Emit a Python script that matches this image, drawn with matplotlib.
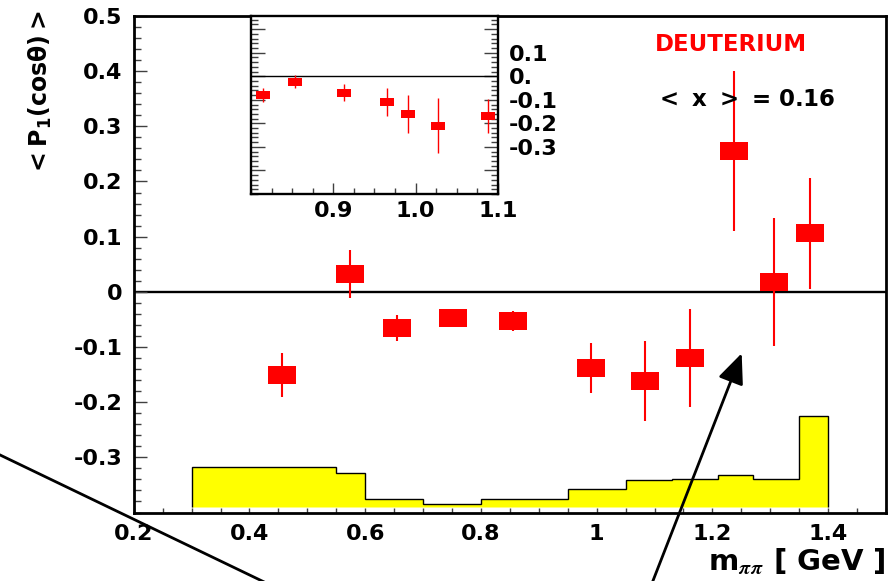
import matplotlib.pyplot as plt
from matplotlib.lines import Line2D
from matplotlib.patches import FancyArrowPatch
from matplotlib.ticker import FixedLocator, FixedFormatter, MultipleLocator

plt.rcParams['font.family'] = ['DejaVu Sans']
plt.rcParams['font.weight'] = 'bold'
plt.rcParams['axes.labelweight'] = 'bold'

# <P1(cos theta)> against the pi-pi invariant mass, deuterium target
mass = [0.457, 0.574, 0.655, 0.751, 0.855, 0.990, 1.083, 1.161, 1.237, 1.306, 1.368]
p1 = [-0.150, 0.032, -0.066, -0.047, -0.053, -0.138, -0.162, -0.120, 0.256, 0.017, 0.106]
p1_err = [0.040, 0.043, 0.024, 0.012, 0.018, 0.046, 0.072, 0.088, 0.145, 0.116, 0.100]

# systematic uncertainty band (step histogram)
band_edges = [0.30, 0.55, 0.60, 0.70, 0.80, 0.95, 1.05, 1.13, 1.21, 1.27, 1.35, 1.40]
band_top = [-0.318, -0.329, -0.376, -0.384, -0.376, -0.357, -0.341, -0.339, -0.332, -0.339, -0.225]
band_base = -0.39

# finer binning around the rho region
inset_mass = [0.815, 0.853, 0.913, 0.965, 0.991, 1.027, 1.088]
inset_p1 = [-0.078, -0.023, -0.070, -0.109, -0.160, -0.210, -0.167]
inset_err = [0.030, 0.028, 0.037, 0.060, 0.081, 0.116, 0.072]

x_ticks = [0.2, 0.4, 0.6, 0.8, 1.0, 1.2, 1.4]
x_ticklabels = ['0.2', '0.4', '0.6', '0.8', '1', '1.2', '1.4']
y_ticks = [-0.3, -0.2, -0.1, 0.0, 0.1, 0.2, 0.3, 0.4, 0.5]
y_ticklabels = ['-0.3', '-0.2', '-0.1', '0', '0.1', '0.2', '0.3', '0.4', '0.5']
inset_xticks = [0.9, 1.0, 1.1]
inset_xticklabels = ['0.9', '1.0', '1.1']
inset_yticks = [-0.4, -0.3, -0.2, -0.1, 0.0, 0.1, 0.2]
inset_yticklabels = ['', '-0.3', '-0.2', '-0.1', '0.', '0.1', '']

# filled rectangle marker, 3:2
RECT = [(-1.5, -1), (1.5, -1), (1.5, 1), (-1.5, 1), (-1.5, -1)]

fig = plt.figure(figsize=(8.95, 5.81), dpi=100)
ax = fig.add_axes([0.1494, 0.1179, 0.8406, 0.8546])
ax.set_xlim(0.2, 1.5)
ax.set_ylim(-0.4, 0.5)

ax.stairs(band_top, band_edges, baseline=band_base, fill=True,
          facecolor='#ffff00', edgecolor='black', linewidth=1)
ax.axhline(0, color='black', lw=1.7, zorder=1.5)
ax.errorbar(mass, p1, yerr=p1_err, ls='none', marker=RECT, ms=19.5,
            color='red', mew=0, elinewidth=1.5, capsize=0)

ax.xaxis.set_major_locator(FixedLocator(x_ticks))
ax.xaxis.set_major_formatter(FixedFormatter(x_ticklabels))
ax.xaxis.set_minor_locator(MultipleLocator(0.05))
ax.yaxis.set_major_locator(FixedLocator(y_ticks))
ax.yaxis.set_major_formatter(FixedFormatter(y_ticklabels))
ax.yaxis.set_minor_locator(MultipleLocator(0.02))
ax.tick_params(axis='both', which='both', direction='in', top=False, right=False,
               labelsize=16, color='0.25', width=1)
ax.tick_params(axis='x', which='both', length=3.6, pad=8)
ax.tick_params(axis='y', which='major', length=9.5, pad=8)
ax.tick_params(axis='y', which='minor', length=5)
for s in ax.spines.values():
    s.set_linewidth(2)

ax.set_ylabel(r'$<$P$_\mathbf{1}$(cos$\mathrm{\theta}$)$>$', fontsize=17,
              fontweight='bold')
ax.yaxis.set_label_coords(-0.1245, 0.845)
ax.yaxis.label.set_va('center')
ax.set_xlabel(r'm$_{\pi\pi}$ [ GeV ]', loc='right', fontsize=21,
              fontweight='bold', math_fontfamily='stix')
ax.xaxis.set_label_coords(1.0, -0.1178)
ax.xaxis.label.set_va('baseline')

ax.text(0.693, 0.9416, 'DEUTERIUM', color='red', fontsize=16.5,
        ha='left', va='center', transform=ax.transAxes)
ax.text(0.693, 0.8308, r'$<$ x $>$ = 0.16', color='black', fontsize=16.5,
        ha='left', va='center', transform=ax.transAxes)

# inset
axin = fig.add_axes([0.2804, 0.6661, 0.2760, 0.3064])
axin.set_xlim(0.8, 1.1)
axin.set_ylim(-0.5, 0.256)
axin.axhline(0, color='black', lw=1)
axin.errorbar(inset_mass, inset_p1, yerr=inset_err, ls='none', marker=RECT, ms=9.4,
              color='red', mew=0, elinewidth=1, capsize=0)
axin.xaxis.set_major_locator(FixedLocator(inset_xticks))
axin.xaxis.set_major_formatter(FixedFormatter(inset_xticklabels))
axin.xaxis.set_minor_locator(MultipleLocator(0.025))
axin.yaxis.set_major_locator(FixedLocator(inset_yticks))
axin.yaxis.set_major_formatter(FixedFormatter(inset_yticklabels))
axin.yaxis.set_minor_locator(MultipleLocator(0.02))
axin.tick_params(axis='both', which='both', direction='in', labelsize=16,
                 color='0.25', width=1, top=False)
axin.tick_params(axis='y', which='both', left=True, right=True,
                 labelleft=False, labelright=True, pad=8)
axin.tick_params(axis='y', which='major', length=10)
axin.tick_params(axis='y', which='minor', length=5)
axin.tick_params(axis='x', which='major', length=8, pad=5)
axin.tick_params(axis='x', which='minor', length=4)
for s in axin.spines.values():
    s.set_linewidth(1.7)

# pointer lines drawn across the page
fig.add_artist(Line2D([-0.011, 0.3128], [0.2251, -0.0148],
                      transform=fig.transFigure, color='black', lw=2))
fig.add_artist(FancyArrowPatch((0.7212, -0.0327), (0.8287, 0.3919),
                               transform=fig.transFigure,
                               arrowstyle='-|>,head_length=1.85,head_width=0.8',
                               mutation_scale=10, lw=2, color='black',
                               shrinkA=0, shrinkB=0))

fig.savefig('out.png', dpi=100)
